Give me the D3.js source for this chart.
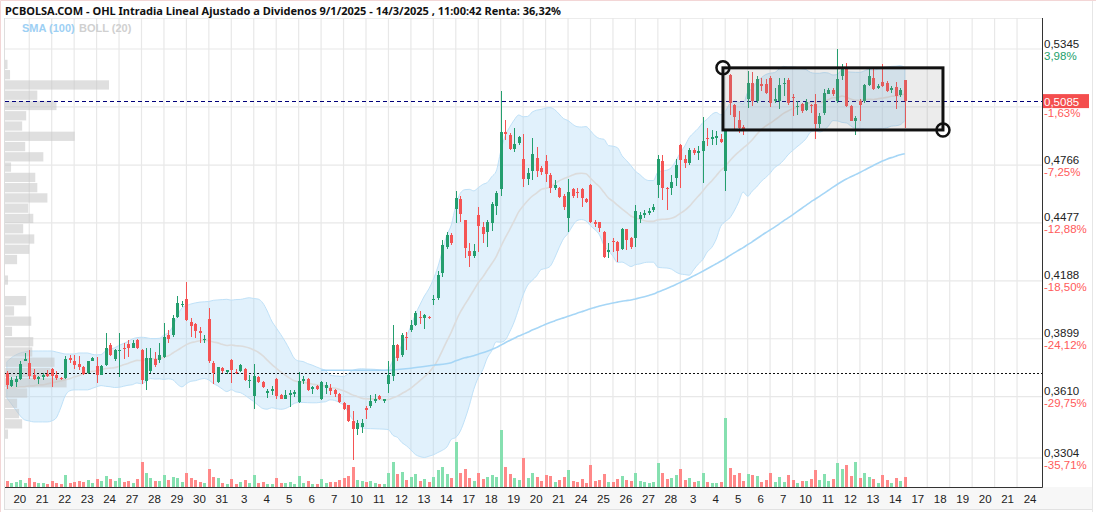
<!DOCTYPE html>
<html lang="es">
<head>
<meta charset="UTF-8">
<title>OHL Intradia</title>
<script src="https://d3js.org/d3.v7.min.js"></script>
<style>
  body { margin: 0; background: #fff; }
  svg { display: block; font-family: "Liberation Sans", Arial, sans-serif; }
</style>
</head>
<body>
<svg id="chart" width="1096" height="512"></svg>
<script>
// ---- data (5 intraday candles per session) ----
const days = ["20","21","22","23","24","27","28","29","30","31","3","4","5","6","7",
  "10","11","12","13","14","17","18","19","20","21","24","25","26","27","28",
  "3","4","5","6","7","10","11","12","13","14","17","18","19","20","21","24"];

const opens = [
  0.3730,0.3661,0.3681,0.3698,0.3790,0.3779,0.3719,0.3698,0.3706,0.3724,
  0.3748,0.3719,0.3704,0.3703,0.3804,0.3786,0.3774,0.3758,0.3728,0.3790,
  0.3764,0.3719,0.3769,0.3868,0.3799,0.3840,0.3855,0.3873,0.3855,0.3893,
  0.3843,0.3686,0.3736,0.3797,0.3794,0.3810,0.3918,0.3918,0.4010,0.4068,
  0.4097,0.3985,0.3972,0.3940,0.3893,0.3997,0.3780,0.3681,0.3753,0.3731,
  0.3794,0.3734,0.3736,0.3749,0.3691,0.3611,0.3708,0.3681,0.3631,0.3639,
  0.3699,0.3620,0.3600,0.3624,0.3624,0.3581,0.3686,0.3699,0.3648,0.3661,
  0.3599,0.3653,0.3651,0.3641,0.3624,0.3578,0.3566,0.3489,0.3449,0.3460,
  0.3556,0.3561,0.3589,0.3611,0.3591,0.3674,0.3714,0.3868,0.3818,0.3910,
  0.3943,0.3968,0.4010,0.4005,0.4010,0.4090,0.4101,0.4226,0.4357,0.4417,
  0.4547,0.4597,0.4492,0.4337,0.4312,0.4517,0.4457,0.4432,0.4477,0.4562,
  0.4647,0.4931,0.4916,0.4846,0.4876,0.4796,0.4697,0.4737,0.4801,0.4752,
  0.4787,0.4717,0.4652,0.4652,0.4612,0.4502,0.4647,0.4632,0.4647,0.4597,
  0.4667,0.4482,0.4482,0.4432,0.4337,0.4387,0.4382,0.4347,0.4447,0.4402,
  0.4402,0.4497,0.4517,0.4527,0.4542,0.4667,0.4787,0.4652,0.4652,0.4702,
  0.4866,0.4796,0.4777,0.4841,0.4826,0.4836,0.4902,0.4897,0.4901,0.4897,
  0.4737,0.5215,0.5068,0.4993,0.4956,0.5093,0.5176,0.5084,0.5171,0.5171,
  0.5201,0.5084,0.5084,0.5168,0.5190,0.5106,0.5057,0.5071,0.5042,0.5068,
  0.5071,0.4971,0.5026,0.5121,0.5138,0.5084,0.5209,0.5247,0.5060,0.4987,
  0.5084,0.5087,0.5165,0.5198,0.5151,0.5181,0.5176,0.5140,0.5155,0.5113,
  0.5190];

const highs = [
  0.3736,0.3708,0.3714,0.3786,0.3827,0.3843,0.3749,0.3714,0.3728,0.3744,
  0.3751,0.3736,0.3708,0.3814,0.3817,0.3818,0.3814,0.3764,0.3790,0.3810,
  0.3810,0.3769,0.3930,0.3877,0.3847,0.3927,0.3877,0.3893,0.3893,0.3897,
  0.3847,0.3852,0.3852,0.3835,0.3877,0.3977,0.3943,0.4018,0.4110,0.4085,
  0.4183,0.4002,0.3977,0.3957,0.3918,0.4052,0.3786,0.3760,0.3758,0.3744,
  0.3797,0.3748,0.3773,0.3753,0.3719,0.3774,0.3711,0.3686,0.3649,0.3661,
  0.3703,0.3624,0.3644,0.3641,0.3644,0.3732,0.3711,0.3703,0.3661,0.3668,
  0.3686,0.3683,0.3674,0.3648,0.3627,0.3581,0.3569,0.3539,0.3494,0.3499,
  0.3561,0.3619,0.3624,0.3619,0.3600,0.3786,0.3968,0.3873,0.3928,0.3935,
  0.3993,0.4038,0.4040,0.4023,0.4015,0.4118,0.4235,0.4392,0.4432,0.4427,
  0.4637,0.4612,0.4492,0.4377,0.4372,0.4557,0.4482,0.4492,0.4582,0.4637,
  0.5136,0.4991,0.4926,0.4951,0.4911,0.4921,0.4752,0.4901,0.4856,0.4762,
  0.4816,0.4727,0.4692,0.4657,0.4622,0.4697,0.4652,0.4652,0.4652,0.4602,
  0.4672,0.4492,0.4482,0.4437,0.4377,0.4402,0.4387,0.4452,0.4447,0.4407,
  0.4567,0.4532,0.4542,0.4552,0.4572,0.4816,0.4816,0.4657,0.4717,0.4796,
  0.4871,0.4816,0.4851,0.4851,0.4861,0.5006,0.4951,0.4941,0.4936,0.4921,
  0.4946,0.5218,0.5071,0.5038,0.4967,0.5234,0.5231,0.5209,0.5201,0.5193,
  0.5209,0.5151,0.5198,0.5201,0.5198,0.5118,0.5084,0.5076,0.5093,0.5071,
  0.5118,0.5026,0.5143,0.5151,0.5151,0.5345,0.5271,0.5276,0.5065,0.5009,
  0.5093,0.5168,0.5243,0.5243,0.5168,0.5271,0.5185,0.5160,0.5181,0.5151,
  0.5190];

const lows = [
  0.3648,0.3658,0.3656,0.3694,0.3786,0.3699,0.3694,0.3674,0.3691,0.3708,
  0.3658,0.3694,0.3691,0.3698,0.3780,0.3749,0.3744,0.3716,0.3724,0.3786,
  0.3678,0.3716,0.3764,0.3815,0.3790,0.3708,0.3797,0.3808,0.3852,0.3847,
  0.3674,0.3644,0.3728,0.3760,0.3778,0.3802,0.3880,0.3910,0.4002,0.4057,
  0.3990,0.3910,0.3902,0.3877,0.3880,0.3780,0.3674,0.3678,0.3728,0.3724,
  0.3678,0.3724,0.3733,0.3688,0.3653,0.3548,0.3678,0.3653,0.3602,0.3619,
  0.3597,0.3597,0.3597,0.3557,0.3607,0.3578,0.3674,0.3636,0.3624,0.3641,
  0.3594,0.3623,0.3619,0.3607,0.3578,0.3544,0.3486,0.3295,0.3419,0.3427,
  0.3498,0.3552,0.3578,0.3591,0.3578,0.3627,0.3686,0.3786,0.3810,0.3843,
  0.3935,0.3963,0.3973,0.3947,0.3998,0.4068,0.4093,0.4208,0.4347,0.4367,
  0.4475,0.4482,0.4302,0.4258,0.4302,0.4332,0.4377,0.4357,0.4437,0.4517,
  0.4612,0.4891,0.4841,0.4831,0.4866,0.4657,0.4667,0.4692,0.4707,0.4717,
  0.4682,0.4627,0.4642,0.4602,0.4542,0.4432,0.4602,0.4602,0.4557,0.4577,
  0.4477,0.4457,0.4432,0.4302,0.4302,0.4332,0.4283,0.4342,0.4342,0.4347,
  0.4357,0.4477,0.4502,0.4517,0.4532,0.4602,0.4592,0.4542,0.4617,0.4662,
  0.4652,0.4752,0.4767,0.4816,0.4792,0.4677,0.4861,0.4866,0.4866,0.4876,
  0.4637,0.5018,0.4934,0.4926,0.4914,0.5051,0.5061,0.5076,0.5135,0.5121,
  0.5055,0.5076,0.5047,0.5110,0.5068,0.5009,0.5018,0.5026,0.5034,0.5026,
  0.4897,0.4951,0.5018,0.5118,0.5110,0.5076,0.5188,0.5055,0.4984,0.4914,
  0.4987,0.5076,0.5160,0.5138,0.5143,0.5155,0.5130,0.5126,0.5047,0.5105,
  0.4951];

const closes = [
  0.3669,0.3691,0.3698,0.3774,0.3799,0.3714,0.3699,0.3708,0.3716,0.3711,
  0.3714,0.3703,0.3699,0.3797,0.3795,0.3769,0.3758,0.3724,0.3786,0.3805,
  0.3719,0.3764,0.3855,0.3818,0.3843,0.3843,0.3850,0.3853,0.3880,0.3852,
  0.3691,0.3802,0.3802,0.3769,0.3818,0.3910,0.3897,0.4002,0.4077,0.4073,
  0.3993,0.3965,0.3940,0.3927,0.3898,0.3786,0.3728,0.3758,0.3736,0.3741,
  0.3741,0.3728,0.3769,0.3691,0.3694,0.3711,0.3681,0.3656,0.3636,0.3646,
  0.3611,0.3600,0.3619,0.3627,0.3631,0.3689,0.3699,0.3644,0.3656,0.3648,
  0.3681,0.3666,0.3636,0.3624,0.3581,0.3549,0.3489,0.3449,0.3479,0.3480,
  0.3544,0.3589,0.3599,0.3597,0.3597,0.3719,0.3868,0.3802,0.3918,0.3905,
  0.3968,0.4030,0.4005,0.4018,0.4002,0.4098,0.4218,0.4367,0.4417,0.4377,
  0.4600,0.4522,0.4352,0.4312,0.4337,0.4462,0.4422,0.4482,0.4572,0.4627,
  0.4931,0.4921,0.4846,0.4871,0.4906,0.4697,0.4727,0.4821,0.4737,0.4732,
  0.4722,0.4652,0.4667,0.4607,0.4557,0.4632,0.4612,0.4627,0.4602,0.4582,
  0.4482,0.4472,0.4452,0.4307,0.4340,0.4382,0.4337,0.4447,0.4392,0.4357,
  0.4537,0.4517,0.4527,0.4537,0.4557,0.4796,0.4652,0.4647,0.4682,0.4767,
  0.4792,0.4777,0.4841,0.4826,0.4836,0.4886,0.4899,0.4906,0.4909,0.4881,
  0.4936,0.5076,0.5004,0.4951,0.4946,0.5176,0.5084,0.5193,0.5160,0.5126,
  0.5076,0.5093,0.5165,0.5176,0.5076,0.5101,0.5062,0.5034,0.5081,0.5060,
  0.4971,0.5013,0.5126,0.5138,0.5118,0.5193,0.5247,0.5060,0.4987,0.5001,
  0.5068,0.5165,0.5209,0.5143,0.5160,0.5160,0.5135,0.5148,0.5110,0.5140,
  0.5085];

// miles de titulos
const volumes = [
  120,80,100,140,80,180,100,80,80,60, 120,80,60,240,80,100,120,100,140,80,
  160,120,220,160,120,180,100,120,80,160, 500,280,180,120,120,240,140,200,180,100,
  280,180,140,100,80,360,200,180,80,60, 160,60,100,140,80,240,80,100,60,60,
  180,80,80,100,60,220,80,120,60,60, 160,80,100,100,140,180,220,400,140,120,
  100,120,80,60,60,280,500,260,300,140, 200,260,120,160,100,200,340,400,260,180,
  900,280,360,180,120,280,160,200,240,200, 1140,400,260,180,140,580,180,280,200,120,
  240,220,100,140,200,340,120,100,160,80, 440,120,140,260,100,100,160,220,140,120,
  280,120,100,80,100,480,280,160,180,240, 360,140,180,100,120,280,100,80,80,100,
  1380,380,240,280,120,260,240,220,100,140, 280,100,200,100,240,140,80,120,120,160,
  340,140,260,120,160,480,360,440,220,500, 180,280,200,160,80,240,140,80,180,120,
  200];

// volume by price, 40 bins from 0.5345 down to 0.3295
const profile = [0,25,50,1030,320,510,210,170,690,200,380,60,300,320,420,230,280,180,290,240,
  120,0,30,0,210,90,260,70,280,270,490,450,610,220,120,140,170,30,0,0];

// Bollinger values for the first candles (window starts before the visible range)
const bollHeadUpper = [0.3784,0.3804,0.3818,0.3828,0.3833,0.3838,0.3838,0.3838,0.3838,0.3838,
  0.3838,0.3833,0.3828,0.3823,0.3823,0.3823,0.3828,0.3828,0.3828];
const bollHeadMid = [0.3654,0.3654,0.3654,0.3659,0.3659,0.3664,0.3664,0.3669,0.3669,0.3674,
  0.3679,0.3684,0.3689,0.3694,0.3699,0.3709,0.3714,0.3724,0.3729];
const bollHeadLower = [0.3604,0.3574,0.3544,0.3514,0.3494,0.3489,0.3484,0.3484,0.3484,0.3484,
  0.3489,0.3504,0.3554,0.3614,0.3639,0.3644,0.3644,0.3644,0.3644];
// SMA(100) read at candles 70,75,...,95 (earlier history not shown)
const smaHead = [0.3742,0.3742,0.3742,0.3742,0.3752,0.3767];

const yTicks = [0.5345, 0.5056, 0.4766, 0.4477, 0.4188, 0.3899, 0.3610, 0.3304];
const yTickPct = ["3,98%", "-1,63%", "-7,25%", "-12,88%", "-18,50%", "-24,12%", "-29,75%", "-35,71%"];
const lastPrice = 0.5085;
const basePrice = 0.3730;
const boxFrom = {day: 31.9, price: 0.5251};
const boxTo = {day: 41.7, price: 0.4941};

// ---- layout ----
const perDay = 5;
const pL = 5, pR = 1042, pT = 18, pB = 487;
const green = "#249e6e", red = "#f45454";

const svg = d3.select("#chart");
const x = d3.scaleLinear().domain([0, 46]).range([6.8, 1039.5]);
const cx = i => x(i / perDay);
const y = d3.scaleLinear().domain([0.3304, 0.5345]).range([458, 49]);
const yVol = d3.scaleLinear().domain([0, 1380]).range([pB, 418]);
const xProf = d3.scaleLinear().domain([0, d3.max(profile)]).range([0, 104]);
const crisp = v => Math.round(v) + 0.5;

svg.append("defs").append("clipPath").attr("id", "plot")
  .append("rect").attr("x", pL).attr("y", pT).attr("width", pR - pL).attr("height", pB - pT);

// frame / backgrounds
svg.append("rect").attr("width", 1096).attr("height", 512).attr("fill", "#fff");
svg.append("rect").attr("x", pL).attr("y", pB).attr("width", 1092 - pL).attr("height", 22)
  .attr("fill", "#f7f7f7");
svg.append("line").attr("x1", pL).attr("x2", 1092).attr("y1", 509.5).attr("y2", 509.5).attr("stroke", "#e2e2e2");
svg.append("line").attr("x1", 1092.5).attr("x2", 1092.5).attr("y1", 0).attr("y2", 512).attr("stroke", "#e6e6e6");
svg.append("line").attr("x1", 4.5).attr("x2", 4.5).attr("y1", pT).attr("y2", 510).attr("stroke", "#dedede");
svg.append("line").attr("x1", pL).attr("x2", pR).attr("y1", pT + 0.5).attr("y2", pT + 0.5).attr("stroke", "#ececec");
svg.append("path").attr("d", "M0.5,512V0.5H1096").attr("fill", "none").attr("stroke", "#f3d6d6");

// grid
const grid = svg.append("g").attr("stroke", "#e8e8e8").attr("stroke-width", 1.2);
grid.selectAll(".v").data(d3.range(1, 46)).join("line").attr("class", "v")
  .attr("x1", d => x(d)).attr("x2", d => x(d)).attr("y1", pT).attr("y2", pB);
grid.selectAll(".h").data(yTicks).join("line").attr("class", "h")
  .attr("x1", pL).attr("x2", pR).attr("y1", d => y(d)).attr("y2", d => y(d));

const g = svg.append("g").attr("clip-path", "url(#plot)");

// Bollinger (20)
const boll = closes.map((c, i) => {
  if (i < 19) return {u: bollHeadUpper[i], m: bollHeadMid[i], l: bollHeadLower[i]};
  const w = closes.slice(i - 19, i + 1);
  const m = d3.mean(w);
  const s = Math.sqrt(d3.mean(w, v => (v - m) * (v - m)));
  return {u: m + 2 * s, m: m, l: m - 2 * s};
});
const curve = d3.curveMonotoneX;
g.append("path").datum(boll)
  .attr("d", d3.area().x((d, i) => cx(i)).y0(d => y(d.l)).y1(d => y(d.u)).curve(curve))
  .attr("fill", "#a3d5f7").attr("fill-opacity", 0.32)
  .attr("stroke", "#bfe1f8").attr("stroke-width", 1);
g.append("path").datum(boll)
  .attr("d", d3.line().x((d, i) => cx(i)).y(d => y(d.m)).curve(curve))
  .attr("fill", "none").attr("stroke", "#dcdcdc").attr("stroke-width", 1.6);

// SMA (100)
const sma = smaHead.map((v, k) => ({i: 70 + 5 * k, v: v}));
for (let i = 99; i < closes.length; i++) sma.push({i: i, v: d3.mean(closes.slice(i - 99, i + 1))});
g.append("path").datum(sma)
  .attr("d", d3.line().x(d => cx(d.i)).y(d => y(d.v)).curve(curve))
  .attr("fill", "none").attr("stroke", "#a6d6f6").attr("stroke-width", 1.6);

// volume profile
const bin = (0.5345 - 0.3295) / profile.length;
g.append("g").selectAll("rect").data(profile).join("rect")
  .attr("x", pL).attr("y", (d, i) => y(0.5345 - i * bin) + 0.5)
  .attr("width", d => xProf(d))
  .attr("height", (d, i) => y(0.5345 - (i + 1) * bin) - y(0.5345 - i * bin) - 1)
  .attr("fill", "#c4c4c4").attr("fill-opacity", 0.55);

// volume bars
const up = i => closes[i] >= opens[i];
g.append("g").attr("shape-rendering", "crispEdges").selectAll("rect").data(volumes).join("rect")
  .attr("x", (d, i) => Math.round(cx(i)) - 1).attr("width", 3)
  .attr("y", d => yVol(d)).attr("height", d => pB - yVol(d))
  .attr("fill", (d, i) => up(i) ? "#86e0b0" : "#ff8989");

// reference lines
g.append("line").attr("x1", pL).attr("x2", pR).attr("y1", crisp(y(basePrice))).attr("y2", crisp(y(basePrice)))
  .attr("stroke", "#111").attr("stroke-dasharray", "2,2");
g.append("line").attr("x1", pL).attr("x2", pR).attr("y1", crisp(y(lastPrice))).attr("y2", crisp(y(lastPrice)))
  .attr("stroke", "#00007a").attr("stroke-width", 1).attr("stroke-dasharray", "4,3");

// candles
const cg = g.append("g").attr("shape-rendering", "crispEdges");
cg.selectAll(".wick").data(closes).join("rect").attr("class", "wick")
  .attr("x", (d, i) => Math.round(cx(i))).attr("width", 1)
  .attr("y", (d, i) => y(highs[i])).attr("height", (d, i) => Math.max(1, y(lows[i]) - y(highs[i])))
  .attr("fill", (d, i) => up(i) ? green : red);
cg.selectAll(".body").data(closes).join("rect").attr("class", "body")
  .attr("x", (d, i) => Math.round(cx(i)) - 1).attr("width", 3)
  .attr("y", (d, i) => y(Math.max(opens[i], closes[i])))
  .attr("height", (d, i) => Math.max(1.5, Math.abs(y(opens[i]) - y(closes[i]))))
  .attr("fill", (d, i) => up(i) ? green : red);

// drawn rectangle
const bx0 = x(boxFrom.day), by0 = y(boxFrom.price), bx1 = x(boxTo.day), by1 = y(boxTo.price);
svg.append("rect").attr("x", bx0).attr("y", by0).attr("width", bx1 - bx0).attr("height", by1 - by0)
  .attr("fill", "#8a8a8a").attr("fill-opacity", 0.16).attr("stroke", "#111").attr("stroke-width", 3);
svg.selectAll(".handle").data([[bx0, by0], [bx1, by1]]).join("circle").attr("class", "handle")
  .attr("cx", d => d[0]).attr("cy", d => d[1]).attr("r", 6.5)
  .attr("fill", "none").attr("stroke", "#111").attr("stroke-width", 2.5);

// axes
svg.append("line").attr("x1", pR + 0.5).attr("x2", pR + 0.5).attr("y1", pT).attr("y2", pB + 0.5)
  .attr("stroke", "#333");
svg.append("line").attr("x1", pL).attr("x2", pR + 0.5).attr("y1", pB + 0.5).attr("y2", pB + 0.5)
  .attr("stroke", "#333");

svg.append("g").selectAll("text").data(days).join("text")
  .attr("x", (d, i) => x(i + 0.58)).attr("y", 503)
  .attr("text-anchor", "middle").attr("font-size", 11.5).attr("fill", "#222").text(d => d);

const fmt = v => v.toFixed(4).replace(".", ",");
const yl = svg.append("g").attr("font-size", 11.5);
yl.selectAll(".p").data(yTicks).join("text").attr("class", "p")
  .attr("x", pR + 2).attr("y", d => y(d) - 1.5).attr("fill", "#222").text(fmt);
yl.selectAll(".q").data(yTickPct).join("text").attr("class", "q")
  .attr("x", pR + 2).attr("y", (d, i) => y(yTicks[i]) + 10.5)
  .attr("fill", d => d.startsWith("-") ? "#ff5a5a" : "#22a06b").text(d => d);

svg.append("rect").attr("x", pR + 1).attr("y", y(lastPrice) - 7).attr("width", 46).attr("height", 14)
  .attr("fill", "#f44e4e");
svg.append("text").attr("x", pR + 2).attr("y", y(lastPrice) + 4.5)
  .attr("font-size", 11.5).attr("fill", "#fff").text(fmt(lastPrice));

// title & legend
const title = svg.append("text").attr("x", 5).attr("y", 15)
  .attr("font-family", "'Noto Sans', 'Open Sans', sans-serif").attr("font-weight", "bold")
  .attr("font-size", 11).attr("fill", "#111")
  .text("PCBOLSA.COM - OHL Intradia Lineal Ajustado a Dividenos 9/1/2025 - 14/3/2025 , 11:00:42 Renta: 36,32%");
if (Math.abs(title.node().getComputedTextLength() - 558) > 6)
  title.attr("textLength", 558).attr("lengthAdjust", "spacingAndGlyphs");

svg.append("text").attr("x", 22).attr("y", 32).attr("font-size", 11).attr("font-weight", "bold")
  .attr("fill", "#9dd0f4").text("SMA (100)");
svg.append("text").attr("x", 79).attr("y", 32).attr("font-size", 11).attr("font-weight", "bold")
  .attr("fill", "#d0d0d0").text("BOLL (20)");
</script>
</body>
</html>
